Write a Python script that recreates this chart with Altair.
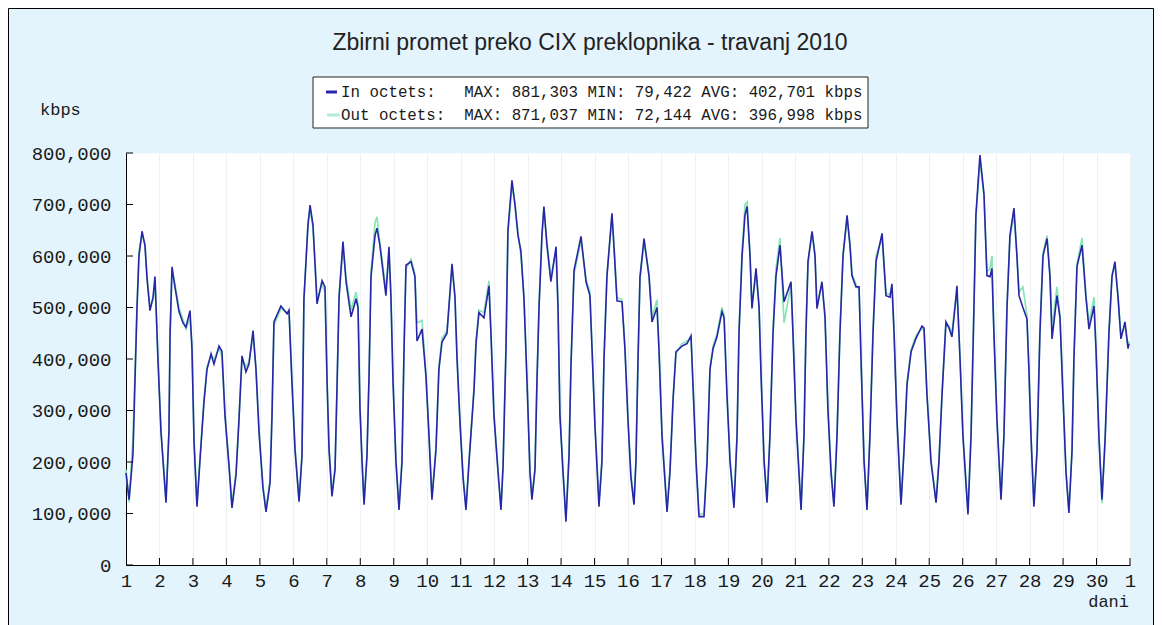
import altair as alt
import pandas as pd

# ---- data (time in hours from 1 April 00:00, values in kbps) ----
hours = [
    0, 2.2, 5.0, 7.9, 9.3, 11.5, 13.6, 15.1, 17.2, 19.4, 20.8, 22.9, 25.1, 28.7,
    30.8, 31.6, 33.0, 35.1, 38.0, 40.9, 43.0, 45.9, 47.3, 48.8, 50.9,
    53.1, 55.9, 58.1, 61.0, 63.1, 66.7, 68.8, 71.0, 73.9, 76.0,
    78.9, 81.0, 83.2, 86.0, 88.2, 91.1, 93.2, 95.4, 98.2, 100.4,
    103.3, 104.7, 106.1, 111.1, 115.5, 116.9, 119.0, 121.2, 124.1,
    126.2, 127.6, 130.5, 132.0, 134.1, 136.2, 137.0, 140.6, 142.7, 144.2, 145.6, 147.7,
    149.9, 151.3, 152.8, 155.6, 157.8, 161.4, 165.0, 166.4, 167.8, 169.3, 170.7,
    172.8, 174.3, 175.7, 178.6, 180.0, 182.1, 186.4, 188.6, 190.0, 191.5, 193.6, 195.8,
    197.9, 199.4, 200.8, 204.4, 207.2, 208.7, 212.3, 215.1, 217.3, 219.4,
    222.3, 224.4, 226.6, 230.2, 233.8, 235.9, 237.4, 239.5, 241.7, 243.8,
    246.0, 249.6, 251.0, 253.1, 256.7, 260.3, 261.7, 263.9, 266.8, 268.9,
    270.4, 272.5, 273.9, 276.8, 278.9, 281.1, 283.2, 285.4, 287.6, 289.7, 291.1,
    293.3, 294.7, 296.2, 298.3, 299.7, 301.9, 304.7, 308.4, 309.8, 311.2, 313.4, 315.5,
    317.7, 319.1, 321.3, 326.3, 329.9, 332.7, 334.2, 336.3, 339.2,
    341.3, 342.8, 344.9, 348.5, 349.9, 352.1, 355.7, 357.8, 360.0, 362.1, 364.3,
    365.7, 367.2, 368.6, 371.5, 375.1, 377.2, 380.8, 382.2, 384.4, 388.0,
    390.1, 392.3, 394.4, 398.7, 402.3, 405.2, 406.6, 408.8, 410.9, 414.5,
    416.7, 418.8, 421.0, 423.8, 427.4, 428.9, 431.0, 433.2, 436.0,
    438.2, 439.6, 441.8, 443.9, 445.4, 447.5, 448.9, 451.8, 454.0, 455.4, 457.6, 459.7,
    461.8, 464.0, 466.1, 469.0, 471.9, 476.9, 478.3, 480.5, 484.1,
    486.2, 487.6, 489.1, 492.0, 494.1, 495.5, 499.1, 501.3, 503.4, 505.6, 507.7,
    509.9, 512.0, 514.2, 517.1, 519.2, 520.6, 523.5, 525.7, 527.1, 529.3, 531.4,
    533.5, 535.7, 537.9, 542.2, 545.0, 547.9, 549.3, 550.8, 552.9, 555.8,
    557.9, 560.1, 563.0, 566.5, 570.8, 572.3, 574.4, 577.3, 580.9,
    583.0, 585.2, 588.0, 590.2, 592.3, 594.5, 595.9, 598.1, 600.2, 603.8,
    606.0, 608.1, 609.5, 612.4, 615.3, 617.4, 619.6, 621.0, 622.4, 624.6, 627.5,
    629.6, 631.8, 633.9, 636.8, 638.9, 640.4, 643.2, 646.1, 647.5, 649.0, 651.1,
    653.3, 655.4, 657.6, 660.5, 662.6, 664.1, 667.6, 669.8, 671.9, 674.1, 676.2,
    678.4, 679.8, 682.0, 685.6, 688.4, 690.6, 694.2, 695.6, 697.7, 699.9,
    702.1, 704.9, 707.1, 709.2, 711.4, 713.5, 716.4, 718.6, 719.3,
]

in_octets = [
    179000, 127000, 215000, 500000, 600000, 648000, 620000, 556000, 494000, 520000, 560000, 400000, 258000, 121000,
    260000, 450000, 579000, 540000, 492000, 470000, 462000, 494000, 420000, 238000, 113000,
    205000, 316000, 380000, 410000, 390000, 425000, 415000, 289000, 191000, 111000,
    175000, 280000, 406000, 375000, 390000, 455000, 380000, 258000, 150000, 103000,
    160000, 289000, 472000, 503000, 488000, 495000, 355000, 224000, 123000,
    211000, 517000, 660000, 699000, 660000, 550000, 507000, 552000, 540000, 355000, 224000, 133000,
    185000, 341000, 520000, 628000, 550000, 482000, 517000, 500000, 302000, 200000, 117000,
    211000, 367000, 560000, 640000, 654000, 620000, 523000, 618000, 520000, 355000, 200000, 107000,
    199000, 420000, 582000, 589000, 560000, 435000, 458000, 367000, 250000, 127000,
    224000, 380000, 433000, 450000, 585000, 520000, 400000, 277000, 170000, 107000,
    200000, 341000, 430000, 490000, 480000, 542000, 450000, 289000, 180000, 107000,
    191000, 420000, 650000, 747000, 700000, 640000, 610000, 517000, 355000, 180000, 127000,
    185000, 355000, 500000, 640000, 696000, 620000, 550000, 618000, 500000, 289000, 180000, 84000,
    211000, 386000, 572000, 638000, 550000, 523000, 420000, 270000, 113000,
    200000, 400000, 560000, 683000, 620000, 513000, 511000, 420000, 280000, 170000, 117000,
    200000, 400000, 560000, 634000, 560000, 472000, 500000, 420000, 250000, 103000,
    180000, 320000, 414000, 425000, 430000, 445000, 350000, 200000, 94000, 94000,
    200000, 380000, 420000, 443000, 492000, 480000, 328000, 200000, 111000,
    250000, 450000, 600000, 680000, 696000, 600000, 498000, 576000, 500000, 370000, 200000, 121000,
    250000, 450000, 560000, 621000, 511000, 550000, 450000, 280000, 107000,
    250000, 450000, 590000, 648000, 600000, 498000, 550000, 480000, 300000, 180000, 113000,
    250000, 450000, 600000, 679000, 620000, 562000, 540000, 540000, 400000, 200000, 107000,
    250000, 450000, 590000, 644000, 523000, 520000, 546000, 450000, 280000, 117000,
    220000, 350000, 414000, 440000, 464000, 460000, 330000, 200000, 121000,
    200000, 330000, 472000, 460000, 443000, 500000, 542000, 400000, 250000, 98000,
    250000, 500000, 680000, 796000, 720000, 562000, 560000, 576000, 450000, 280000, 127000,
    250000, 500000, 640000, 693000, 600000, 523000, 500000, 478000, 380000, 250000, 113000,
    220000, 450000, 600000, 634000, 560000, 439000, 523000, 480000, 330000, 180000, 101000,
    220000, 400000, 580000, 621000, 520000, 458000, 503000, 420000, 250000, 127000,
    240000, 450000, 560000, 589000, 520000, 439000, 472000, 420000, 430000,
]

out_octets = [
    185000, 122000, 250000, 505000, 610000, 640000, 625000, 560000, 500000, 515000, 548000, 405000, 262000, 125000,
    255000, 440000, 570000, 545000, 500000, 475000, 458000, 480000, 430000, 245000, 118000,
    210000, 320000, 385000, 405000, 400000, 420000, 405000, 295000, 195000, 118000,
    180000, 285000, 400000, 385000, 395000, 445000, 385000, 262000, 155000, 110000,
    165000, 295000, 465000, 498000, 490000, 492000, 360000, 230000, 128000,
    215000, 510000, 665000, 690000, 655000, 560000, 515000, 545000, 530000, 360000, 230000, 140000,
    190000, 345000, 525000, 615000, 560000, 495000, 530000, 505000, 310000, 205000, 122000,
    215000, 372000, 570000, 665000, 676000, 625000, 535000, 600000, 525000, 360000, 205000, 112000,
    205000, 425000, 575000, 594000, 565000, 470000, 475000, 372000, 255000, 132000,
    228000, 385000, 440000, 455000, 575000, 525000, 405000, 282000, 175000, 112000,
    205000, 345000, 435000, 495000, 490000, 552000, 455000, 295000, 185000, 112000,
    195000, 425000, 645000, 735000, 705000, 645000, 600000, 520000, 360000, 185000, 132000,
    190000, 360000, 505000, 645000, 690000, 625000, 560000, 610000, 505000, 295000, 185000, 95000,
    215000, 390000, 565000, 630000, 555000, 530000, 425000, 275000, 125000,
    205000, 405000, 565000, 675000, 625000, 520000, 515000, 425000, 285000, 175000, 125000,
    205000, 405000, 555000, 625000, 565000, 480000, 515000, 425000, 255000, 110000,
    185000, 325000, 410000, 430000, 435000, 440000, 355000, 205000, 98000, 100000,
    205000, 385000, 425000, 448000, 500000, 485000, 333000, 205000, 118000,
    255000, 455000, 610000, 700000, 705000, 605000, 505000, 565000, 505000, 375000, 205000, 126000,
    255000, 455000, 575000, 635000, 470000, 545000, 455000, 285000, 112000,
    255000, 455000, 585000, 645000, 605000, 505000, 545000, 485000, 305000, 185000, 118000,
    255000, 455000, 605000, 670000, 625000, 565000, 545000, 535000, 405000, 205000, 112000,
    255000, 455000, 600000, 635000, 528000, 525000, 540000, 455000, 285000, 122000,
    225000, 355000, 418000, 445000, 460000, 455000, 335000, 205000, 126000,
    205000, 335000, 468000, 465000, 450000, 505000, 530000, 405000, 255000, 105000,
    255000, 505000, 675000, 785000, 715000, 570000, 575000, 600000, 455000, 285000, 132000,
    255000, 505000, 635000, 680000, 605000, 530000, 540000, 485000, 385000, 255000, 118000,
    225000, 455000, 605000, 640000, 565000, 460000, 540000, 485000, 335000, 185000, 106000,
    225000, 405000, 585000, 635000, 525000, 470000, 520000, 425000, 255000, 120000,
    245000, 455000, 565000, 580000, 525000, 445000, 465000, 425000, 435000,
]

day_ticks = list(range(1, 32))
y_ticks = [0, 100000, 200000, 300000, 400000, 500000, 600000, 700000, 800000]

title_text = "Zbirni promet preko CIX preklopnika - travanj 2010"
NB = "\u00a0"
legend_rows = [
    "In octets:" + NB * 3 + "MAX: 881,303 MIN: 79,422 AVG: 402,701 kbps",
    "Out octets:" + NB * 2 + "MAX: 871,037 MIN: 72,144 AVG: 396,998 kbps",
]

# ---- layout constants ----
W, H = 1004, 412
PAD_L, PAD_T, PAD_R, PAD_B = 118, 145, 24, 60
IN_COLOR = "#2626a6"
OUT_COLOR = "#86e6b4"
MONO = "Liberation Mono"

df = pd.DataFrame({
    "day": [1 + h / 24 for h in hours],
    "inv": in_octets,
    "outv": out_octets,
})

xscale = alt.Scale(domain=[1, 31], nice=False, zero=False)
yscale = alt.Scale(domain=[0, 800000], nice=False)

x_axis = alt.Axis(
    values=day_ticks,
    labelExpr="datum.value > 30 ? '1' : '' + datum.value",
    title=None, ticks=False, domainColor="#000000", domainWidth=1,
    labelFont=MONO, labelFontSize=19, labelColor="#1a1a1a", labelPadding=6,
    labelOverlap=False, labelFlush=False, labelBound=False,
    grid=True, gridColor="#eef1f4", gridWidth=1,
)
y_axis = alt.Axis(
    values=y_ticks, format=",d", title=None, ticks=False,
    domainColor="#000000", domainWidth=1,
    labelFont=MONO, labelFontSize=19, labelColor="#1a1a1a", labelPadding=15,
    grid=False,
)

base = alt.Chart(df)
out_line = base.mark_line(color=OUT_COLOR, strokeWidth=1.7).encode(
    x=alt.X("day:Q", scale=xscale, axis=x_axis),
    y=alt.Y("outv:Q", scale=yscale, axis=y_axis),
)
in_line = base.mark_line(color=IN_COLOR, strokeWidth=1.6).encode(
    x=alt.X("day:Q", scale=xscale, axis=x_axis),
    y=alt.Y("inv:Q", scale=yscale, axis=y_axis),
)

ytick_df = pd.DataFrame({"v": y_ticks})
ytick_rules = alt.Chart(ytick_df).mark_rule(color="#000000", strokeWidth=1).encode(
    y=alt.Y("v:Q", scale=yscale, axis=y_axis),
    x=alt.value(0), x2=alt.value(7),
)
xtick_df = pd.DataFrame({"d": day_ticks[1:]})
xtick_rules = alt.Chart(xtick_df).mark_rule(color="#000000", strokeWidth=1).encode(
    x=alt.X("d:Q", scale=xscale, axis=x_axis),
    y=alt.value(H), y2=alt.value(H - 7),
)

one = pd.DataFrame({"k": [0]})


def text_layer(txt, x, y, size, font, align="left", color="#1a1a1a"):
    return alt.Chart(one).mark_text(
        text=txt, font=font, fontSize=size, align=align, baseline="middle", color=color
    ).encode(x=alt.value(x), y=alt.value(y))


# outer frame
frame = alt.Chart(one).mark_rect(fill="transparent", stroke="#000000", strokeWidth=1).encode(
    x=alt.value(-PAD_L + 0.5), x2=alt.value(W + PAD_R - 0.5),
    y=alt.value(-PAD_T + 0.5), y2=alt.value(H + PAD_B + 5),
)

# legend box
legend_box = alt.Chart(one).mark_rect(fill="#ffffff", stroke="#222222", strokeWidth=1).encode(
    x=alt.value(313 - 126), x2=alt.value(868 - 126),
    y=alt.value(77 - 153), y2=alt.value(128 - 153),
)
row_y = [92 - 153, 115 - 153]
marker_in = alt.Chart(one).mark_rule(color=IN_COLOR, strokeWidth=3).encode(
    x=alt.value(326 - 126), x2=alt.value(337 - 126), y=alt.value(row_y[0]))
marker_out = alt.Chart(one).mark_rule(color="#b4ecd4", strokeWidth=3).encode(
    x=alt.value(327 - 126), x2=alt.value(340 - 126), y=alt.value(row_y[1]))

layers = [frame, out_line, in_line, ytick_rules, xtick_rules, legend_box, marker_in, marker_out]

layers.append(text_layer(title_text, 590 - 126, 43 - 153, 23, "Liberation Sans", align="center", color="#222222"))
layers.append(text_layer("kbps", 40 - 126, 110 - 153, 17, MONO))
layers.append(text_layer("dani", 1129 - 126, 602 - 153, 17, MONO, align="right"))

for r in range(2):
    layers.append(text_layer(legend_rows[r], 341 - 126, row_y[r], 15.8, MONO))

chart = alt.layer(*layers).properties(
    width=W, height=H,
    padding={"left": PAD_L, "top": PAD_T, "right": PAD_R, "bottom": PAD_B},
    autosize=alt.AutoSizeParams(type="none"),
    background="#e4f4fc",
).configure_view(stroke="transparent", fill="#ffffff")

chart.save("out.html", embed_options={"renderer": "svg", "actions": False})
